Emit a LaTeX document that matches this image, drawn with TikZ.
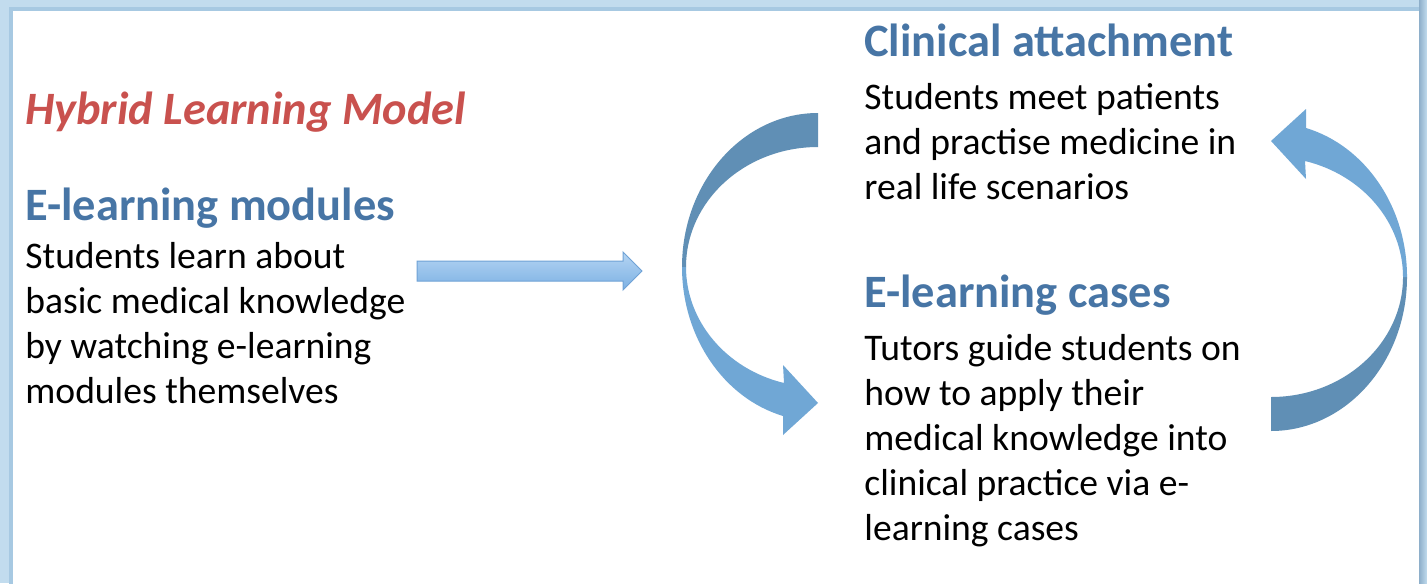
\documentclass[tikz,border=0pt]{standalone}
\usepackage{fontspec}
\setmainfont{Carlito}

\definecolor{titlered}{HTML}{C9514E}
\definecolor{headblue}{HTML}{4775A5}
\definecolor{banddark}{HTML}{608FB5}
\definecolor{bandlight}{HTML}{70A7D5}
\definecolor{frameblue}{HTML}{C2DCEE}
\definecolor{framedeep}{HTML}{A7C9E2}
\definecolor{frameside}{HTML}{8EAFCA}
\definecolor{feedtop}{HTML}{B5D5F3}
\definecolor{feedbottom}{HTML}{7CB0E3}
\definecolor{feedline}{HTML}{6FA2D6}

\begin{document}
\begin{tikzpicture}[x=0.5pt, y=-0.5pt,
titletext/.style={anchor=base west, inner sep=0pt, text=titlered,
font=\fontsize{23.2}{28}\selectfont\bfseries\itshape},
headtext/.style={anchor=base west, inner sep=0pt, text=headblue,
font=\fontsize{23.2}{28}\selectfont\bfseries},
bodytext/.style={anchor=north west, inner sep=0pt, align=left,
font=\fontsize{18.8}{22.5}\selectfont},
darkband/.style={fill=banddark},
lightband/.style={fill=bandlight},
feedarrow/.style={top color=feedtop, bottom color=feedbottom, draw=feedline, line width=0.5pt}]

\useasboundingbox (0,0) rectangle (1427,583);

% FRAME
\fill[frameblue] (0,0) rectangle (1427,583);
\draw[framedeep, line width=2pt] (11,9) rectangle (1421,590);
\shade[left color=frameside, right color=frameblue] (1419,0) rectangle (1427,583);
\fill[white] (13,11) rectangle (1419,590);

% TEXT (body blocks hang from a strut: top = first baseline - 31.5)
\node[titletext] (title) at (25,125) {Hybrid Learning Model};

\node[headtext] (modhead) at (25,220) {E-learning modules};
\node[bodytext] (modbody) at (25,237) {\strut Students learn about\\
basic medical knowledge\\
by watching e-learning\\
modules themselves};

\node[headtext] (clinhead) at (864,57) {Clinical attachment};
\node[bodytext] (clinbody) at (864,78) {\strut Students meet patients\\
and practise medicine in\\
real life scenarios};

\node[headtext] (casehead) at (864,307) {E-learning cases};
\node[bodytext] (casebody) at (864,329) {\strut Tutors guide students on\\
how to apply their\\
medical knowledge into\\
clinical practice via e-\\
learning cases};

% STRAIGHT ARROW
\path[feedarrow] (417,261) -- (623,261) -- (623,252) -- (642,271) -- (623,290)
 -- (623,281) -- (417,281) -- cycle;

% CYCLE ARROWS (second one is the first turned half round)
\foreach \cx/\cy/\rot in {818/267/0, 1271/277/180}{
  \begin{scope}[shift={(\cx,\cy)}, rotate=\rot]
    % tail half
    \fill[darkband] (0,-154) .. controls (-75,-154) and (-136,-85) .. (-136,0)
      -- (-132,0) .. controls (-132,-66) and (-73,-120) .. (0,-120) -- cycle;
    % head half
    \fill[lightband] (-136,0) .. controls (-136,70) and (-94.5,131) .. (-35,149)
      -- (-35,168) -- (0,136) -- (-35,98) -- (-34,116)
      .. controls (-92,102) and (-132,54) .. (-132,0) -- cycle;
  \end{scope}
}

\end{tikzpicture}
\end{document}
